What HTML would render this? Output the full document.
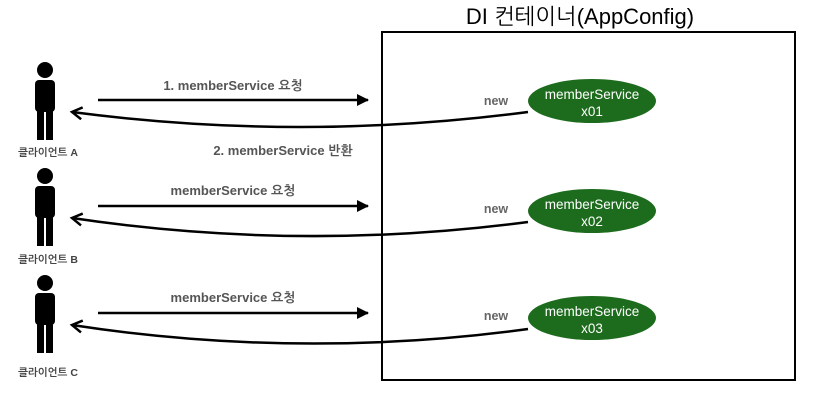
<!DOCTYPE html>
<html><head><meta charset="utf-8"><style>
body{margin:0;background:#fff;width:817px;height:407px;overflow:hidden}
text{font-family:"Liberation Sans","NanumGothic","Noto Sans CJK KR",sans-serif}
</style></head><body>
<svg width="817" height="407" viewBox="0 0 817 407">
<defs>
<marker id="ah" markerWidth="12" markerHeight="12" refX="11" refY="6" orient="auto" markerUnits="userSpaceOnUse"><path d="M0,0 L12,6 L0,12 Z" fill="#000"/></marker>
<marker id="oa" markerWidth="14" markerHeight="14" refX="11" refY="7" orient="auto" markerUnits="userSpaceOnUse"><path d="M1,1 L11,7 L1,13" fill="none" stroke="#000" stroke-width="2.5"/></marker>
<g id="person" fill="#000">
<circle cx="0" cy="8" r="8"/>
<rect x="-10" y="18" width="20" height="32" rx="4"/>
<rect x="-8" y="40" width="7" height="38"/>
<rect x="1" y="40" width="7" height="38"/>
</g>
</defs>
<text x="580" y="24" font-size="22" text-anchor="middle">DI 컨테이너(AppConfig)</text>
<rect x="382" y="32" width="413" height="348" fill="none" stroke="#000" stroke-width="2"/>

<g>
<use href="#person" x="45" y="62"/>
<text x="48" y="156" font-size="10.5" font-weight="bold" fill="#444" text-anchor="middle">클라이언트 A</text>
<line x1="98" y1="100" x2="368" y2="100" stroke="#000" stroke-width="2.5" marker-end="url(#ah)"/>
<text x="233" y="90" font-size="13" font-weight="bold" fill="#555" text-anchor="middle">1. memberService 요청</text>
<path d="M528,112 Q300,142 72,112" fill="none" stroke="#000" stroke-width="2.5" marker-end="url(#oa)"/>
<text x="283" y="155" font-size="13" font-weight="bold" fill="#555" text-anchor="middle">2. memberService 반환</text>
<text x="496" y="105" font-size="12.5" font-weight="bold" fill="#666" text-anchor="middle">new</text>
<ellipse cx="592" cy="101" rx="64" ry="22" fill="#1d6b1d"/>
<text x="592" y="99" font-size="13.5" fill="#fff" text-anchor="middle">memberService</text>
<text x="592" y="116" font-size="13.5" fill="#fff" text-anchor="middle">x01</text>
</g>

<g>
<use href="#person" x="45" y="168"/>
<text x="48" y="263" font-size="10.5" font-weight="bold" fill="#444" text-anchor="middle">클라이언트 B</text>
<line x1="98" y1="206" x2="368" y2="206" stroke="#000" stroke-width="2.5" marker-end="url(#ah)"/>
<text x="233" y="195" font-size="13" font-weight="bold" fill="#555" text-anchor="middle">memberService 요청</text>
<path d="M528,222 Q300,252 72,218" fill="none" stroke="#000" stroke-width="2.5" marker-end="url(#oa)"/>
<text x="496" y="213" font-size="12.5" font-weight="bold" fill="#666" text-anchor="middle">new</text>
<ellipse cx="592" cy="211" rx="64" ry="22" fill="#1d6b1d"/>
<text x="592" y="209" font-size="13.5" fill="#fff" text-anchor="middle">memberService</text>
<text x="592" y="226" font-size="13.5" fill="#fff" text-anchor="middle">x02</text>
</g>

<g>
<use href="#person" x="45" y="275"/>
<text x="48" y="376" font-size="10.5" font-weight="bold" fill="#444" text-anchor="middle">클라이언트 C</text>
<line x1="98" y1="313" x2="368" y2="313" stroke="#000" stroke-width="2.5" marker-end="url(#ah)"/>
<text x="233" y="302" font-size="13" font-weight="bold" fill="#555" text-anchor="middle">memberService 요청</text>
<path d="M528,329 Q300,360 72,325" fill="none" stroke="#000" stroke-width="2.5" marker-end="url(#oa)"/>
<text x="496" y="320" font-size="12.5" font-weight="bold" fill="#666" text-anchor="middle">new</text>
<ellipse cx="592" cy="318" rx="64" ry="22" fill="#1d6b1d"/>
<text x="592" y="316" font-size="13.5" fill="#fff" text-anchor="middle">memberService</text>
<text x="592" y="333" font-size="13.5" fill="#fff" text-anchor="middle">x03</text>
</g>
</svg>
</body></html>
